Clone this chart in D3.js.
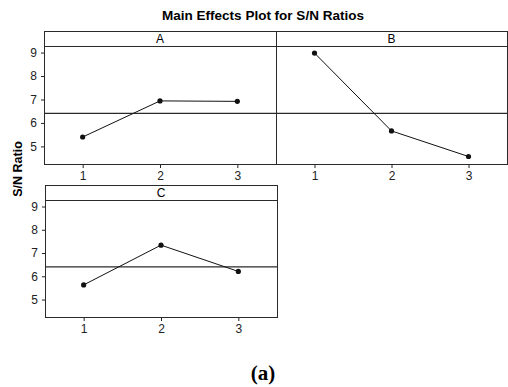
<!DOCTYPE html>
<html><head><meta charset="utf-8">
<script src="https://cdn.jsdelivr.net/npm/d3@7"></script>
<style>body{margin:0;background:#fff}svg{display:block}</style>
</head><body>
<script>
const factors = ["A", "B", "C"];
const levels = [1, 2, 3];
const valuesA = [5.40, 6.94, 6.92];
const valuesB = [8.98, 5.66, 4.57];
const valuesC = [5.63, 7.34, 6.21];
const yTicks = [5, 6, 7, 8, 9];
const series = [valuesA, valuesB, valuesC];
const allVals = [].concat(valuesA, valuesB, valuesC);
const grandMean = d3.mean(allVals);

const W = 508, H = 387;
const svg = d3.select("body").append("svg").attr("width", W).attr("height", H);
const font = "Liberation Sans, Arial, sans-serif";
const tickFont = "Liberation Sans Narrow, Arial Narrow, Liberation Sans, sans-serif";

// panel layout
const panels = [
  {x0: 44, x1: 276, top: 31, stripH: 15, y1: 164, yAxis: true},
  {x0: 276, x1: 507, top: 31, stripH: 15, y1: 164, yAxis: false},
  {x0: 45, x1: 277, top: 185, stripH: 15, y1: 317, yAxis: true}
];

svg.append("text").attr("x", 263).attr("y", 19.5).attr("text-anchor", "middle")
  .attr("font-family", font).attr("font-weight", "bold").attr("font-size", 13.5)
  .text("Main Effects Plot for S/N Ratios");

svg.append("text").attr("transform", "translate(22,169) rotate(-90)")
  .attr("text-anchor", "middle").attr("font-family", font).attr("font-weight", "bold")
  .attr("font-size", 12.5).text("S/N Ratio");

svg.append("text").attr("x", 263).attr("y", 380).attr("text-anchor", "middle")
  .attr("font-family", "Liberation Serif, Times New Roman, serif").attr("font-weight", "bold")
  .attr("font-size", 21).text("(a)");

panels.forEach((p, i) => {
  const g = svg.append("g");
  const plotTop = p.top + p.stripH;
  const x = d3.scaleLinear().domain([0.5, 3.5]).range([p.x0, p.x1]);
  const y = d3.scaleLinear().domain([4.25, 9.28]).range([p.y1, plotTop]);

  // frame
  g.append("rect").attr("x", p.x0 + 0.5).attr("y", p.top + 0.5)
    .attr("width", p.x1 - p.x0).attr("height", p.y1 - p.top)
    .attr("fill", "none").attr("stroke", "#2a2a2a").attr("stroke-width", 1);
  g.append("line").attr("x1", p.x0).attr("x2", p.x1).attr("y1", plotTop + 0.5).attr("y2", plotTop + 0.5)
    .attr("stroke", "#2a2a2a").attr("stroke-width", 1.2);
  g.append("text").attr("x", (p.x0 + p.x1) / 2).attr("y", p.top + 12).attr("text-anchor", "middle")
    .attr("font-family", tickFont).attr("font-size", 12).text(factors[i]);

  // mean reference line
  g.append("line").attr("x1", p.x0).attr("x2", p.x1)
    .attr("y1", y(grandMean)).attr("y2", y(grandMean))
    .attr("stroke", "#2a2a2a").attr("stroke-width", 1.2);

  // x axis
  const xa = g.append("g").attr("transform", `translate(0,${p.y1 + 1})`)
    .call(d3.axisBottom(x).tickValues(levels).tickSize(3).tickPadding(3).tickFormat(d3.format("d")));
  xa.select(".domain").remove();
  xa.selectAll("text").attr("font-family", tickFont).attr("font-size", 12).attr("fill", "#222");
  xa.selectAll("line").attr("stroke", "#222");

  if (p.yAxis) {
    const ya = g.append("g").attr("transform", `translate(${p.x0},0)`)
      .call(d3.axisLeft(y).tickValues(yTicks).tickSize(3).tickPadding(4).tickFormat(d3.format("d")));
    ya.select(".domain").remove();
    ya.selectAll("text").attr("font-family", tickFont).attr("font-size", 12).attr("fill", "#222");
    ya.selectAll("line").attr("stroke", "#222");
  }

  const pts = levels.map((l, j) => [l, series[i][j]]);
  g.append("path").datum(pts)
    .attr("d", d3.line().x(d => x(d[0])).y(d => y(d[1])))
    .attr("fill", "none").attr("stroke", "#111").attr("stroke-width", 1);
  g.selectAll("circle").data(pts).join("circle")
    .attr("cx", d => x(d[0])).attr("cy", d => y(d[1])).attr("r", 2.6).attr("fill", "#111");
});
</script>
</body></html>
